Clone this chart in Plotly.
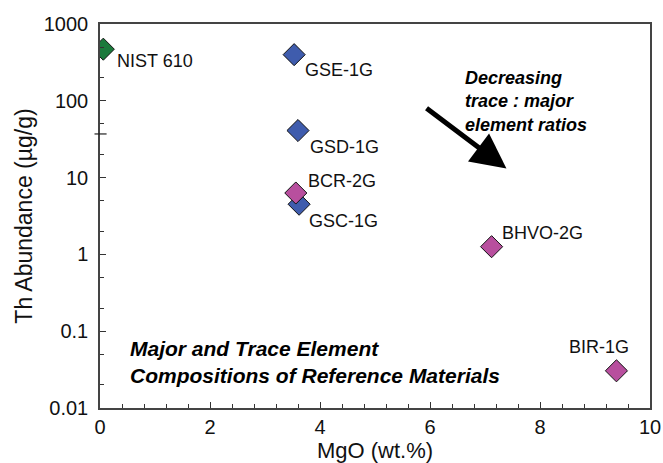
import numpy as np
import plotly.graph_objects as go

# ---- data ----
names = ["NIST 610", "GSE-1G", "GSD-1G", "BCR-2G", "GSC-1G", "BHVO-2G", "BIR-1G"]
mgo = [0.06, 3.53, 3.60, 3.56, 3.62, 7.12, 9.39]
th = [470, 399, 41, 6.3, 4.5, 1.26, 0.0305]
groups = ["green", "blue", "blue", "pink", "blue", "pink", "pink"]

x_ticks = [0, 2, 4, 6, 8, 10]
y_ticks = [0.01, 0.1, 1, 10, 100, 1000]
y_ticktext = ["0.01", "0.1", "1", "10", "100", "1000"]

# arrow (tail -> tip) in data units
arrow_x = [5.91, 7.39]
arrow_y = [83, 13.1]

# ---- styles ----
colors = {"green": "#1b7a3c", "blue": "#3f5cad", "pink": "#b84f9e"}
# label offsets (px): xshift, yshift, xanchor
label_pos = {
    "NIST 610": (12, -12, "left"),
    "GSE-1G": (9, -15, "left"),
    "GSD-1G": (10, -16, "left"),
    "BCR-2G": (10, 12, "left"),
    "GSC-1G": (8, -17, "left"),
    "BHVO-2G": (8, 14, "left"),
    "BIR-1G": (-17, 24, "center"),
}

font_family = "Liberation Sans, Arial, sans-serif"

fig = go.Figure()
# draw pink after blue so BCR-2G sits on top of GSC-1G
order = [0, 1, 2, 4, 3, 5, 6]
for i in order:
    fig.add_trace(go.Scatter(
        x=[mgo[i]], y=[th[i]], mode="markers",
        marker=dict(symbol="diamond", size=17, color=colors[groups[i]],
                    line=dict(color="#111111", width=1)),
        showlegend=False, hoverinfo="skip",
    ))

annotations = []
for i, n in enumerate(names):
    xs, ys, xa = label_pos[n]
    annotations.append(dict(
        x=mgo[i], y=np.log10(th[i]), xref="x", yref="y",
        text=n, showarrow=False, xanchor=xa, yanchor="middle",
        xshift=xs, yshift=ys,
        font=dict(family=font_family, size=18, color="#111111"),
    ))

annotations.append(dict(
    x=arrow_x[1], y=np.log10(arrow_y[1]), ax=arrow_x[0], ay=np.log10(arrow_y[0]),
    xref="x", yref="y", axref="x", ayref="y", text="", showarrow=True,
    arrowhead=2, arrowsize=1.4, arrowwidth=5, arrowcolor="#000000",
))

annotations.append(dict(
    x=6.6, y=np.log10(280), xref="x", yref="y", xanchor="left", yanchor="top",
    align="left", showarrow=False,
    text="Decreasing<br>trace : major<br>element ratios",
    font=dict(family=font_family, size=18, color="#000000", weight="bold", style="italic"),
))
annotations.append(dict(
    x=0.5, y=np.log10(0.088), xref="x", yref="y", xanchor="left", yanchor="top",
    align="left", showarrow=False,
    text="Major and Trace Element<br>Compositions of Reference Materials",
    font=dict(family=font_family, size=21, color="#000000", weight="bold", style="italic"),
))

fig.add_shape(type="line", xref="paper", yref="y", x0=-0.01, x1=0.012, y0=37, y1=37,
              line=dict(color="#222222", width=1.2))

fig.update_layout(
    width=663, height=463,
    margin=dict(l=100, r=13, t=24, b=55),
    paper_bgcolor="white", plot_bgcolor="white",
    font=dict(family=font_family, color="#111111"),
    annotations=annotations,
    xaxis=dict(
        range=[0, 10], tickvals=x_ticks, ticks="inside", ticklen=6, tickwidth=1,
        tickcolor="#333333",
        minor=dict(ticks="inside", ticklen=4, dtick=0.4, tickcolor="#333333", showgrid=False),
        showgrid=False, zeroline=False, showline=True, linecolor="#444444", linewidth=1.5,
        mirror=True, tickfont=dict(size=20, color="#111111"),
        title=dict(text="MgO (wt.%)", font=dict(size=22, color="#111111"), standoff=2),
        automargin=False,
    ),
    yaxis=dict(
        type="log", range=[-2, 3], tickvals=y_ticks, ticktext=y_ticktext,
        ticks="inside", ticklen=6, tickwidth=1, tickcolor="#333333",
        minor=dict(ticks="inside", ticklen=4, tickcolor="#333333", showgrid=False),
        showgrid=False, zeroline=False, showline=True, linecolor="#444444", linewidth=1.5,
        mirror=True, tickfont=dict(size=20, color="#111111"), ticklabelstandoff=6,
        title=dict(text="Th Abundance (µg/g)", font=dict(size=23, color="#111111"), standoff=5),
        automargin=False,
    ),
)

fig.write_html(
    "out.html",
    config={"displayModeBar": False},
    post_script="document.body.style.margin='0';document.body.style.overflow='hidden';",
)
